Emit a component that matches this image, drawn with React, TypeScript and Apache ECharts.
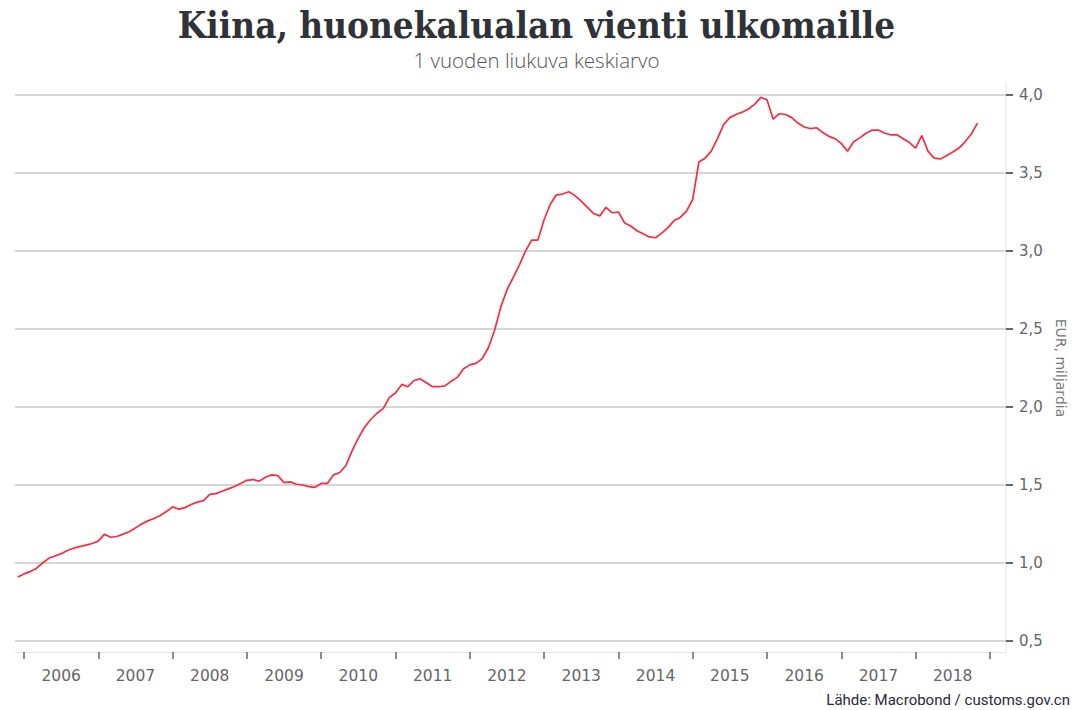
import React, { useEffect, useRef } from "react";
import * as echarts from "echarts";

// Monthly 12-month moving average, EUR billions. Series starts Dec 2005.
const START_YEAR = 2005;
const START_MONTH = 12;
const v2005 = [0.91];
const v2006 = [0.93, 0.945, 0.965, 1.0, 1.03, 1.045, 1.06, 1.08, 1.095, 1.105, 1.115, 1.125];
const v2007 = [1.14, 1.185, 1.165, 1.17, 1.185, 1.2, 1.225, 1.25, 1.27, 1.285, 1.305, 1.33];
const v2008 = [1.36, 1.345, 1.355, 1.375, 1.39, 1.4, 1.44, 1.445, 1.46, 1.475, 1.49, 1.51];
const v2009 = [1.53, 1.535, 1.525, 1.55, 1.565, 1.56, 1.515, 1.52, 1.505, 1.5, 1.49, 1.485];
const v2010 = [1.51, 1.51, 1.565, 1.58, 1.625, 1.72, 1.8, 1.87, 1.92, 1.96, 1.99, 2.06];
const v2011 = [2.09, 2.145, 2.13, 2.17, 2.18, 2.155, 2.13, 2.13, 2.135, 2.165, 2.19, 2.245];
const v2012 = [2.27, 2.28, 2.31, 2.38, 2.49, 2.64, 2.75, 2.83, 2.91, 3.0, 3.07, 3.07];
const v2013 = [3.2, 3.3, 3.36, 3.365, 3.38, 3.355, 3.32, 3.28, 3.24, 3.225, 3.28, 3.245];
const v2014 = [3.25, 3.18, 3.16, 3.13, 3.11, 3.09, 3.085, 3.115, 3.15, 3.195, 3.215, 3.255];
const v2015 = [3.33, 3.57, 3.595, 3.64, 3.72, 3.81, 3.855, 3.875, 3.89, 3.91, 3.94, 3.985];
const v2016 = [3.97, 3.845, 3.88, 3.875, 3.855, 3.82, 3.795, 3.785, 3.79, 3.76, 3.735, 3.72];
const v2017 = [3.69, 3.64, 3.7, 3.725, 3.755, 3.775, 3.775, 3.755, 3.745, 3.745, 3.72, 3.695];
const v2018 = [3.66, 3.74, 3.64, 3.595, 3.59, 3.61, 3.635, 3.66, 3.7, 3.75, 3.82];

const values = [
  ...v2005, ...v2006, ...v2007, ...v2008, ...v2009, ...v2010, ...v2011,
  ...v2012, ...v2013, ...v2014, ...v2015, ...v2016, ...v2017, ...v2018,
];

const yearTicks = [2006, 2007, 2008, 2009, 2010, 2011, 2012, 2013, 2014, 2015, 2016, 2017, 2018, 2019];
const yearLabels = [2006, 2007, 2008, 2009, 2010, 2011, 2012, 2013, 2014, 2015, 2016, 2017, 2018];

const TITLE = "Kiina, huonekalualan vienti ulkomaille";
const SUBTITLE = "1 vuoden liukuva keskiarvo";
const SOURCE = "Lähde: Macrobond / customs.gov.cn";
const Y_NAME = "EUR, miljardia";

export default function App() {
  const ref = useRef<HTMLDivElement>(null);

  useEffect(() => {
    if (!ref.current) return;
    const chart = echarts.init(ref.current, undefined, { renderer: "svg" });

    const data = values.map((v, i) => {
      const m = START_MONTH - 1 + i;
      const t = START_YEAR + m / 12;
      return [t, v];
    });

    const sans = "'DejaVu Sans', 'Open Sans', sans-serif";

    chart.setOption({
      animation: false,
      backgroundColor: "#ffffff",
      title: [
        {
          text: TITLE,
          left: "center",
          top: 6,
          padding: 0,
          textStyle: {
            fontFamily: "'DejaVu Serif Condensed', 'Liberation Serif', serif",
            fontWeight: "bold",
            fontSize: 36.5,
            lineHeight: 38,
            color: "#2f3236",
          },
        },
        {
          text: SUBTITLE,
          left: "center",
          top: 49,
          padding: 0,
          textStyle: {
            fontFamily: "'Open Sans', sans-serif",
            fontWeight: 300,
            fontSize: 20.5,
            lineHeight: 22,
            color: "#555555",
          },
        },
        {
          text: SOURCE,
          right: 3,
          bottom: 2,
          padding: 0,
          textStyle: {
            fontFamily: "Roboto, 'Open Sans', sans-serif",
            fontWeight: "normal",
            fontSize: 15,
            lineHeight: 16,
            color: "#2a2a3a",
          },
        },
      ],
      grid: {
        left: 15,
        right: 67,
        top: 95,
        bottom: 69,
        outerBoundsMode: "none",
        containLabel: false,
      },
      xAxis: {
        type: "value",
        min: 2005.879,
        max: 2019.217,
        offset: 11,
        axisLine: { show: true, lineStyle: { color: "#e6e6e6", width: 1 } },
        axisTick: {
          show: true,
          customValues: yearTicks,
          length: 7,
          lineStyle: { color: "#666666", width: 1.5 },
        },
        axisLabel: {
          show: true,
          customValues: yearLabels.map((y) => y + 0.5),
          formatter: (v: number) => String(Math.floor(v)),
          margin: 16,
          fontFamily: sans,
          fontSize: 15.5,
          color: "#666666",
        },
        splitLine: { show: false },
      },
      yAxis: {
        type: "value",
        position: "right",
        min: 0.5,
        max: 4.0,
        interval: 0.5,
        axisLine: { show: false },
        axisTick: {
          show: true,
          length: 7,
          lineStyle: { color: "#666666", width: 2 },
        },
        axisLabel: {
          margin: 13,
          fontFamily: sans,
          fontSize: 15,
          color: "#666666",
          formatter: (v: number) => v.toFixed(1).replace(".", ","),
        },
        splitLine: { show: true, lineStyle: { color: "#c8c8c8", width: 1.6 } },
        name: Y_NAME,
        nameLocation: "middle",
        nameRotate: -90,
        nameGap: 45,
        nameTextStyle: { fontFamily: sans, fontSize: 14, color: "#777777" },
      },
      graphic: [
        {
          type: "line",
          shape: { x1: 1006, y1: 83, x2: 1006, y2: 652 },
          style: { stroke: "#e3e3e3", lineWidth: 1 },
          silent: true,
        },
      ],
      series: [
        {
          type: "line",
          data,
          showSymbol: false,
          symbol: "none",
          lineStyle: { color: "#ff2a3c", width: 1.7 },
          z: 3,
        },
      ],
    });

    return () => chart.dispose();
  }, []);

  return (
    <div
      ref={ref}
      style={{ position: "fixed", left: 0, top: 0, width: 1073, height: 710, background: "#fff" }}
    />
  );
}
